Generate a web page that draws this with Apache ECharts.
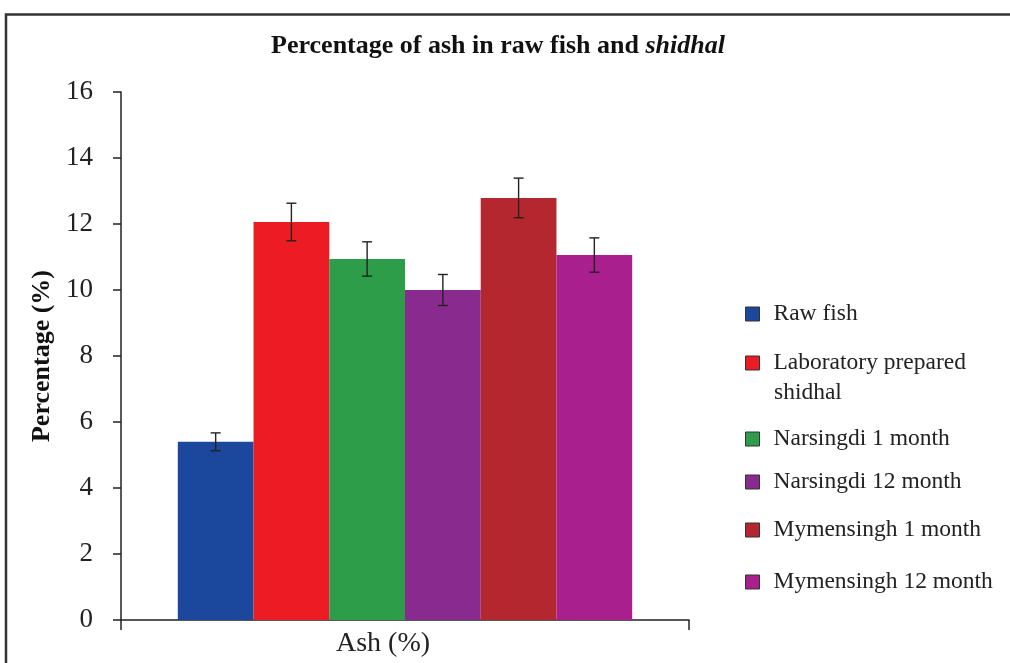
<!DOCTYPE html>
<html><head><meta charset="utf-8">
<script src="https://cdn.jsdelivr.net/npm/echarts@6/dist/echarts.min.js"></script>
<style>html,body{margin:0;padding:0;background:#fff}#c{width:1010px;height:663px}</style>
</head><body><div id="c"></div>
<script>
const categories = ['Ash (%)'];
const seriesNames = ['Raw fish','Laboratory prepared shidhal','Narsingdi 1 month','Narsingdi 12 month','Mymensingh 1 month','Mymensingh 12 month'];
const values = [5.4, 12.06, 10.94, 10.0, 12.79, 11.06];
const errors = [0.27, 0.57, 0.52, 0.47, 0.6, 0.52];
const colors = ['#1B489C','#ED1C24','#2E9D4A','#892A8F','#B5272E','#A91F8E'];
const yTicks = [0,2,4,6,8,10,12,14,16];

const FONT = '"Liberation Serif","DejaVu Serif",serif';
const CAT_GAP = 0.2;
const n = seriesNames.length;

const series = [];
seriesNames.forEach((name, i) => {
  series.push({
    name: name, type: 'bar', data: [values[i]],
    itemStyle: {color: colors[i]},
    barGap: '0%', barCategoryGap: (CAT_GAP*100)+'%',
    emphasis: {disabled: true}
  });
});
seriesNames.forEach((name, i) => {
  series.push({
    type: 'custom', silent: true, z: 10,
    data: [[0, values[i] - errors[i], values[i] + errors[i]]],
    renderItem: function (params, api) {
      const lo = api.coord([api.value(0), api.value(1)]);
      const hi = api.coord([api.value(0), api.value(2)]);
      const catW = api.size([1, 0])[0];
      const bw = catW * (1 - CAT_GAP) / n;
      const x = lo[0] + (i - (n - 1) / 2) * bw;
      const cap = 5;
      const st = {stroke: '#222', lineWidth: 1.4};
      return {type: 'group', children: [
        {type: 'line', shape: {x1: x, y1: lo[1], x2: x, y2: hi[1]}, style: st},
        {type: 'line', shape: {x1: x - cap, y1: lo[1], x2: x + cap, y2: lo[1]}, style: st},
        {type: 'line', shape: {x1: x - cap, y1: hi[1], x2: x + cap, y2: hi[1]}, style: st}
      ]};
    }
  });
});

const legendTops = [294, 343, 419, 462, 510, 562];
const legends = seriesNames.map((name, i) => ({
  data: [name], left: 740, top: legendTops[i], orient: 'vertical',
  itemWidth: 14, itemHeight: 14, itemGap: 0, selectedMode: false,
  icon: 'rect',
  formatter: nm => nm === 'Laboratory prepared shidhal' ? 'Laboratory prepared' : nm,
  itemStyle: {borderColor: '#333', borderWidth: 1},
  textStyle: {fontFamily: FONT, fontSize: 23.5, color: '#222', lineHeight: 30, padding: [0,0,0,9]}
}));

const chart = echarts.init(document.getElementById('c'), null, {renderer: 'canvas'});
chart.setOption({
  animation: false,
  backgroundColor: '#fff',
  title: {
    text: '{n|Percentage of ash in raw fish and }{i|shidhal}',
    left: 493, top: 28, textAlign: 'center',
    textStyle: {rich: {
      n: {fontFamily: FONT, fontSize: 26, fontWeight: 'bold', color: '#111'},
      i: {fontFamily: FONT, fontSize: 26, fontWeight: 'bold', fontStyle: 'italic', color: '#111'}
    }}
  },
  legend: legends,
  grid: {left: 121, top: 92, right: 321, bottom: 43, containLabel: false},
  xAxis: {
    type: 'category', data: categories, boundaryGap: true,
    axisLine: {lineStyle: {color: '#222', width: 1.5}},
    axisTick: {show: true, length: 10, alignWithLabel: false, lineStyle: {color: '#222', width: 1.5}},
    axisLabel: {fontFamily: FONT, fontSize: 28, color: '#222', margin: 10, padding: [0, 44, 0, 0]}
  },
  yAxis: {
    type: 'value', min: 0, max: 16, interval: 2,
    name: 'Percentage (%)', nameLocation: 'middle', nameGap: 66,
    nameTextStyle: {fontFamily: FONT, fontSize: 26, fontWeight: 'bold', color: '#111'},
    axisLine: {show: true, lineStyle: {color: '#222', width: 1.5}},
    axisTick: {show: true, length: 8, lineStyle: {color: '#222', width: 1.5}},
    splitLine: {show: false},
    axisLabel: {fontFamily: FONT, fontSize: 27, color: '#222', margin: 28,
      formatter: v => yTicks.includes(v) ? String(v) : ''}
  },
  graphic: [{
    type: 'polyline', silent: true,
    shape: {points: [[6, 670], [6, 14.5], [1020, 14.5]]},
    style: {stroke: '#333', lineWidth: 2.5, fill: null}
  }, {
    type: 'text', silent: true, left: 774, top: 381,
    style: {text: 'shidhal', font: '23.5px ' + FONT, fill: '#222'}
  }],
  series: series
});
</script></body></html>
